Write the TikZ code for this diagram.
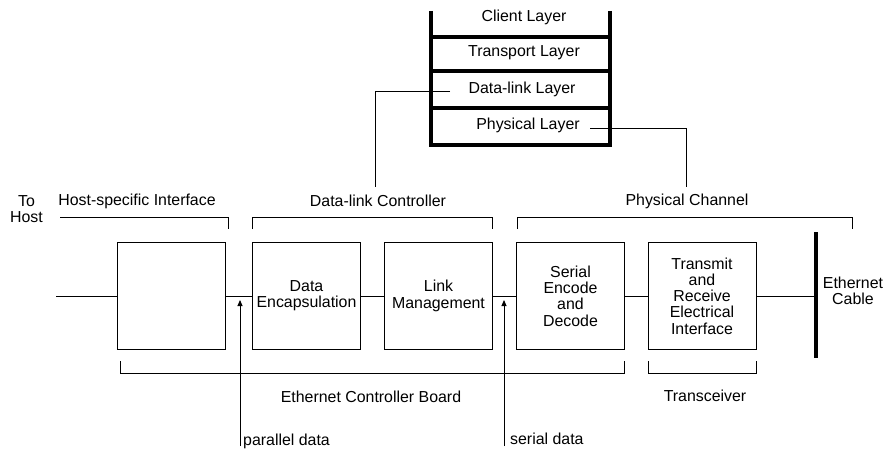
\documentclass[tikz,border=0pt]{standalone}
\usepackage{fontspec}
\setmainfont{Liberation Sans}
\usetikzlibrary{arrows.meta}
\begin{document}
\begin{tikzpicture}[x=1pt,y=-1pt,
  every node/.style={font=\fontsize{15.9}{16.3}\selectfont, inner sep=0pt},
  thin line/.style={line width=0.9pt},
  thick bar/.style={line width=4pt},
  blockbox/.style={draw, line width=0.9pt, minimum width=108pt, minimum height=107pt, align=center},
  bracket/.style={line width=0.9pt},
  dataarrow/.style={line width=0.9pt, -{Triangle[width=5pt,length=6pt]}},
  lbl/.style={align=center}]
\useasboundingbox (0,0) rectangle (886,452);

% protocol stack
\draw[thick bar] (431,11) -- (431,147);
\draw[thick bar] (610,11) -- (610,147);
\draw[thick bar] (431,37) -- (610,37);
\draw[thick bar] (431,71) -- (610,71);
\draw[thick bar] (431,108) -- (610,108);
\draw[thick bar] (431,145) -- (610,145);
\node[lbl] (client) at (524,17) {Client Layer};
\node[lbl] (transport) at (524,53) {Transport Layer};
\node[lbl] (dll) at (522,89) {Data-link Layer};
\node[lbl] (phys) at (528,125) {Physical Layer};

% group labels
\node[lbl] (tohost) at (26.5,209) {To\\Host};
\node[lbl] (hsi) at (137,201) {Host-specific Interface};
\node[lbl] (dlc) at (378,201) {Data-link Controller};
\node[lbl] (pch) at (687,201) {Physical Channel};
\node[lbl] (ecb) at (371,397) {Ethernet Controller Board};
\node[lbl] (trx) at (705,396) {Transceiver};

% blocks
\node[blockbox] (host) at (171.5,296) {};
\node[blockbox] (enc) at (306.5,296) {Data\\Encapsulation};
\node[blockbox] (link) at (438.5,296) {Link\\Management};
\node[blockbox] (serial) at (570.5,296) {Serial\\Encode\\and\\Decode};
\node[blockbox] (xmit) at (702,296) {Transmit\\and\\Receive\\Electrical\\Interface};

% ethernet cable
\coordinate (cabletop) at (816,232);
\coordinate (cablebot) at (816,358);
\draw[line width=4.5pt] (cabletop) -- (cablebot);
\coordinate (cablemid) at (816,296);
\node[lbl] (cable) at (853,291) {Ethernet\\Cable};

% main line
\coordinate (hostin) at (56,296);
\draw[thin line] (hostin) -- (host.west);
\draw[thin line] (host.east) -- (enc.west);
\draw[thin line] (enc.east) -- (link.west);
\draw[thin line] (link.east) -- (serial.west);
\draw[thin line] (serial.east) -- (xmit.west);
\draw[thin line] (xmit.east) -- (cablemid);

% layer connectors
\coordinate (dllstart) at (450,91);
\coordinate (dllend) at (375,187);
\coordinate (physstart) at (590,128);
\coordinate (physend) at (686,187);
\draw[thin line] (dllstart) -| (dllend);
\draw[thin line] (physstart) -| (physend);

% brackets
\draw[bracket] (60,217) -- (228,217) -- (228,229);
\draw[bracket] (252,229) -- (252,217) -- (492,217) -- (492,229);
\draw[bracket] (517,229) -- (517,217) -- (852,217) -- (852,229);
\draw[bracket] (120,361) -- (120,373) -- (624,373) -- (624,361);
\draw[bracket] (648,361) -- (648,373) -- (756,373) -- (756,361);

% data arrows
\coordinate (pbot) at (240,446);
\coordinate (ptip) at (240,300);
\coordinate (sbot) at (504,446);
\coordinate (stip) at (504,300);
\draw[dataarrow] (pbot) -- (ptip);
\draw[dataarrow] (sbot) -- (stip);
\node[anchor=west] (pdata) at (243,441) {parallel data};
\node[anchor=west] (sdata) at (510,439) {serial data};
\end{tikzpicture}
\end{document}
